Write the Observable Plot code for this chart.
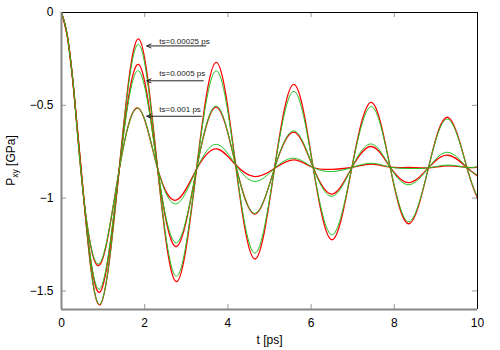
<!DOCTYPE html>
<html>
<head>
<meta charset="utf-8">
<script src="https://cdn.jsdelivr.net/npm/d3@7"></script>
<script src="https://cdn.jsdelivr.net/npm/@observablehq/plot@0.6"></script>
<style>
  html, body { margin: 0; padding: 0; background: #fff; }
  #chart svg { display: block; }
</style>
</head>
<body>
<div id="chart"></div>
<script>
// Sample times (start, extrema, crossings)
const tPts = [0, 0.136, 0.24, 0.32, 0.535, 0.92, 1.385, 1.85, 2.31, 2.77, 3.245, 3.72, 4.185, 4.65, 5.12, 5.59, 6.05, 6.51, 6.98, 7.45, 7.9, 8.35, 8.82, 9.29, 9.745, 10];

// ts = 0.00025 ps
const aRed   = [0, -0.12, -0.30, -0.48, -1.0, -1.575, -0.85, -0.142, -0.84, -1.45, -0.845, -0.269, -0.82, -1.328, -0.84, -0.387, -0.835, -1.224, -0.835, -0.484, -0.833, -1.138, -0.837, -0.565, -0.835, -1.0];
const aGreen = [0, -0.12, -0.30, -0.48, -1.0, -1.572, -0.85, -0.172, -0.84, -1.42, -0.845, -0.314, -0.82, -1.296, -0.84, -0.425, -0.835, -1.197, -0.835, -0.507, -0.833, -1.127, -0.837, -0.575, -0.835, -0.995];
// ts = 0.0005 ps
const bRed   = [0, -0.12, -0.30, -0.48, -1.0, -1.507, -0.85, -0.28, -0.84, -1.26, -0.845, -0.51, -0.82, -1.086, -0.84, -0.645, -0.835, -0.978, -0.835, -0.722, -0.833, -0.916, -0.837, -0.769, -0.835, -0.88];
const bGreen = [0, -0.12, -0.30, -0.48, -1.0, -1.489, -0.85, -0.314, -0.84, -1.24, -0.845, -0.504, -0.82, -1.082, -0.84, -0.638, -0.835, -0.99, -0.835, -0.708, -0.833, -0.928, -0.837, -0.753, -0.835, -0.875];
// ts = 0.001 ps
const cRed   = [0, -0.12, -0.30, -0.48, -1.0, -1.359, -0.85, -0.516, -0.84, -1.01, -0.845, -0.735, -0.82, -0.884, -0.84, -0.794, -0.835, -0.845, -0.835, -0.817, -0.833, -0.835, -0.837, -0.826, -0.835, -0.833];
const cGreen = [0, -0.12, -0.30, -0.48, -1.0, -1.35, -0.85, -0.516, -0.84, -1.03, -0.845, -0.71, -0.82, -0.91, -0.84, -0.785, -0.835, -0.857, -0.835, -0.812, -0.833, -0.84, -0.837, -0.822, -0.835, -0.83];

const xTicks = [0, 2, 4, 6, 8, 10];
const xTickLabels = ["0", "2", "4", "6", "8", "10"];
const yTicks = [0, -0.5, -1, -1.5];
const yTickLabels = ["0", "\u22120.5", "\u22121", "\u22121.5"];

const annLabels = ["ts=0.00025 ps", "ts=0.0005 ps", "ts=0.001 ps"];
const annY      = [-0.18, -0.368, -0.559];
const annTextY  = [-0.157, -0.326, -0.522];
const annTail   = [3.47, 3.41, 3.36];
const annHead   = [2.05, 2.05, 2.05];
const annTextX  = 2.35;

const xLabel = "t [ps]";

const series = [
  {name: "A red", vals: aRed, color: "#ff0000", w: 1.3},
  {name: "A green", vals: aGreen, color: "#22c322", w: 1},
  {name: "B red", vals: bRed, color: "#ff0000", w: 1.3},
  {name: "B green", vals: bGreen, color: "#22c322", w: 1},
  {name: "C red", vals: cRed, color: "#ff0000", w: 1.3},
  {name: "C green", vals: cGreen, color: "#22c322", w: 1}
];

const W = 500, H = 350, mL = 61, mR = 23, mT = 12, mB = 41;
const plotH = H - mT - mB, plotW = W - mL - mR;
const tickLen = 5;

const lineMarks = series.map(s =>
  Plot.line(tPts.map((t, i) => ({t, v: s.vals[i]})), {
    x: "t", y: "v", stroke: s.color, strokeWidth: s.w, curve: "natural"
  })
);

const ann = annLabels.map((label, i) => ({label, y: annY[i], ty: annTextY[i], tail: annTail[i], head: annHead[i]}));
const innerX = xTicks.slice(1, -1);
const innerY = yTicks.slice(1);

const chart = Plot.plot({
  width: W, height: H,
  marginLeft: mL, marginRight: mR, marginTop: mT, marginBottom: mB,
  style: {fontFamily: "'Liberation Sans', Arial, Helvetica, sans-serif", fontSize: "12px", background: "#fff", color: "#000"},
  x: {domain: [0, 10]},
  y: {domain: [-1.6, 0]},
  marks: [
    // inward ticks
    Plot.ruleX(innerX, {stroke: "#999", insetTop: plotH - tickLen}),
    Plot.ruleX(innerX, {stroke: "#999", insetBottom: plotH - tickLen}),
    Plot.ruleY(innerY, {stroke: "#999", insetRight: plotW - tickLen}),
    Plot.ruleY(innerY, {stroke: "#999", insetLeft: plotW - tickLen}),
    ...lineMarks,
    // frame
    Plot.ruleY([0], {stroke: "#000", strokeWidth: 1}),
    Plot.ruleX([10], {stroke: "#000", strokeWidth: 1}),
    Plot.ruleX([0], {stroke: "#888", strokeWidth: 2}),
    Plot.ruleY([-1.6], {stroke: "#888", strokeWidth: 2}),
    Plot.axisX({ticks: xTicks, tickSize: 0, tickPadding: 9, tickFormat: d => xTickLabels[xTicks.indexOf(d)], label: null, fontSize: 12}),
    Plot.axisY({ticks: yTicks, tickSize: 0, tickPadding: 8, tickFormat: d => yTickLabels[yTicks.indexOf(d)], label: null, fontSize: 12}),
    // annotations
    Plot.arrow(ann, {x1: "tail", y1: "y", x2: "head", y2: "y", stroke: "#222", strokeWidth: 1, headLength: 7, headAngle: 50}),
    Plot.text(ann, {x: annTextX, y: "ty", text: "label", textAnchor: "start", fontSize: 8, fill: "#222"}),
    Plot.text([xLabel], {frameAnchor: "bottom", dy: 34, text: d => d, fontSize: 12, fill: "#000"})
  ]
});

// y axis label with subscript
const svg = d3.select(chart);
const yl = svg.append("text")
  .attr("transform", `translate(15,${mT + plotH / 2}) rotate(-90)`)
  .attr("text-anchor", "middle")
  .attr("font-size", 12)
  .attr("fill", "#000");
yl.append("tspan").text("P");
yl.append("tspan").attr("dy", 3).attr("font-size", 8.5).text("xy");
yl.append("tspan").attr("dy", -3).text(" [GPa]");

document.getElementById("chart").appendChild(chart);
</script>
</body>
</html>
